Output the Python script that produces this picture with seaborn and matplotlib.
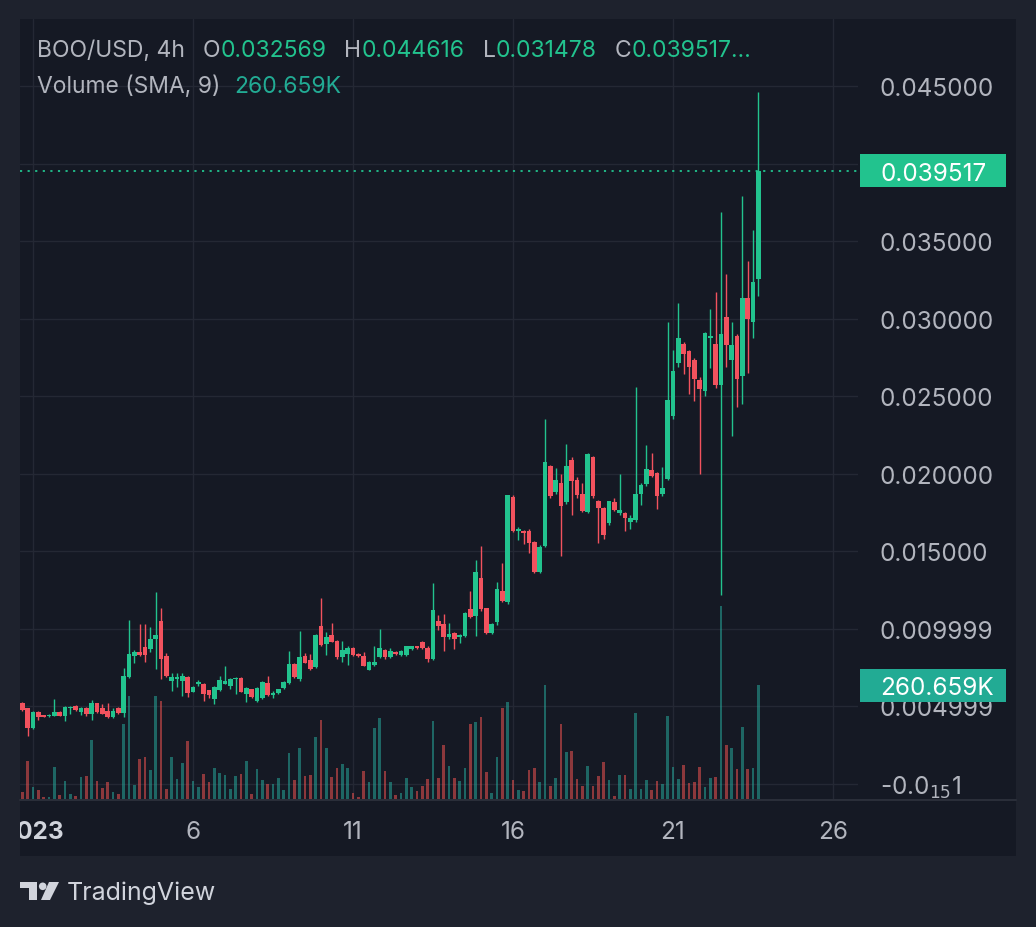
import numpy as np
import pandas as pd
import matplotlib
matplotlib.use("Agg")
import matplotlib.pyplot as plt
import matplotlib.dates as mdates
import matplotlib.transforms as mtransforms
from matplotlib.patches import Rectangle, Polygon, Circle
from matplotlib.lines import Line2D
from matplotlib.offsetbox import TextArea, HPacker, AnchoredOffsetbox
import seaborn as sns

# ---------------- data (prices in thousandths of USD, volume in thousands) ----------------
symbol = "BOO/USD"
interval = "4h"
first_bar = "2022-12-31 16:00"

open_milli = [
    5.22, 4.85, 3.56, 4.63, 4.42, 4.33, 4.37, 4.63, 4.35, 4.85,
    5.00, 4.63, 4.89, 4.46, 5.17, 4.85, 4.68, 4.29, 4.85, 4.57,
    6.87, 8.25, 8.50, 8.79, 8.68, 9.32, 10.50, 8.25, 6.62, 6.72,
    6.62, 6.88, 5.93, 6.40, 6.44, 6.01, 5.43, 6.01, 6.44, 6.29,
    6.72, 6.79, 5.75, 6.08, 5.32, 5.54, 6.51, 5.71, 5.86, 6.14,
    6.51, 7.69, 6.72, 8.23, 7.95, 7.52, 10.15, 8.99, 9.57, 9.20,
    8.13, 8.34, 8.71, 8.34, 8.24, 7.33, 7.63, 8.19, 8.62, 8.19,
    8.49, 8.28, 8.28, 8.67, 8.84, 9.10, 8.77, 8.02, 10.49, 10.28,
    9.42, 9.68, 9.42, 9.53, 11.29, 10.82, 13.29, 11.30, 9.71, 10.40,
    12.43, 11.68, 18.49, 16.28, 16.28, 16.28, 15.58, 13.65, 15.32, 20.46,
    18.80, 19.40, 18.17, 20.90, 19.60, 18.70, 17.54, 21.04, 18.20, 17.75,
    16.80, 18.17, 17.45, 17.44, 16.85, 17.00, 18.68, 19.35, 20.24, 20.03,
    18.68, 19.65, 23.68, 27.15, 28.38, 27.88, 27.35, 26.03, 25.32, 28.76,
    28.38, 25.74, 30.09, 27.30, 28.85, 26.26, 31.32, 29.80, 32.569,
]
high_milli = [
    5.28, 4.90, 4.66, 4.66, 4.45, 4.48, 5.43, 4.66, 5.00, 5.00,
    5.05, 4.94, 4.94, 5.37, 5.22, 5.10, 5.17, 4.89, 4.94, 7.48,
    10.55, 8.60, 10.29, 10.29, 10.12, 12.34, 11.32, 8.40, 7.10, 7.10,
    7.15, 6.92, 6.30, 6.66, 6.50, 6.05, 6.30, 6.94, 7.59, 6.80,
    6.85, 6.85, 6.25, 6.12, 6.25, 6.62, 6.94, 5.95, 6.12, 6.60,
    8.56, 7.80, 9.85, 8.40, 8.34, 9.65, 12.00, 9.80, 10.34, 9.25,
    9.20, 8.84, 8.80, 8.40, 8.50, 7.90, 8.84, 9.96, 8.70, 8.71,
    8.55, 8.60, 8.90, 8.90, 8.90, 9.20, 8.85, 12.92, 10.90, 10.95,
    10.34, 9.75, 9.65, 11.05, 12.43, 14.42, 15.30, 11.35, 10.35, 13.00,
    14.20, 18.64, 18.60, 16.55, 16.35, 16.43, 15.65, 15.40, 23.50, 20.55,
    20.36, 20.00, 21.90, 21.05, 19.75, 19.40, 21.30, 21.10, 18.30, 17.85,
    18.25, 18.45, 19.95, 17.50, 17.30, 25.60, 19.40, 21.85, 21.30, 20.10,
    20.44, 29.80, 28.00, 31.03, 28.50, 28.00, 27.45, 26.20, 29.10, 30.60,
    31.70, 36.85, 32.88, 29.80, 29.00, 37.88, 33.68, 35.68, 44.616,
]
low_milli = [
    4.70, 3.06, 3.50, 4.07, 4.28, 4.28, 4.33, 4.33, 4.03, 4.46,
    4.68, 4.42, 4.35, 4.07, 4.57, 4.46, 4.25, 4.25, 4.50, 4.29,
    6.80, 7.80, 8.20, 7.82, 8.50, 7.39, 6.74, 6.90, 5.97, 6.20,
    5.65, 5.58, 5.90, 6.29, 5.32, 5.54, 5.15, 5.95, 6.40, 6.08,
    5.80, 5.90, 5.28, 5.54, 5.28, 5.45, 5.65, 5.50, 5.80, 6.10,
    6.45, 6.80, 6.60, 7.75, 7.30, 7.45, 8.90, 8.28, 9.10, 8.05,
    7.85, 7.63, 8.20, 8.15, 7.55, 7.30, 7.60, 8.10, 8.05, 8.10,
    8.30, 8.20, 8.20, 8.62, 8.65, 8.65, 7.81, 7.95, 9.90, 8.56,
    9.35, 8.67, 9.05, 9.45, 10.65, 9.50, 11.10, 9.65, 9.65, 10.20,
    11.70, 11.60, 16.20, 15.70, 15.45, 14.90, 13.60, 13.60, 15.25, 18.45,
    18.70, 14.66, 18.05, 17.32, 18.40, 17.50, 17.45, 18.45, 15.50, 15.80,
    16.70, 17.55, 17.30, 16.26, 16.40, 16.90, 17.97, 19.20, 19.80, 17.68,
    18.55, 19.55, 23.50, 26.90, 26.40, 25.10, 24.70, 20.00, 25.00, 26.80,
    25.50, 12.15, 26.90, 22.44, 24.26, 24.50, 26.50, 28.76, 31.478,
]
close_milli = [
    4.72, 3.60, 4.63, 4.29, 4.31, 4.44, 4.63, 4.35, 4.94, 4.94,
    4.72, 4.85, 4.50, 5.22, 4.63, 4.50, 4.29, 4.68, 4.57, 6.94,
    8.35, 8.50, 8.30, 8.31, 9.32, 9.60, 8.03, 6.95, 6.88, 6.88,
    6.94, 5.86, 6.23, 6.57, 5.75, 5.69, 6.23, 6.66, 6.62, 6.72,
    6.81, 5.93, 6.14, 5.58, 6.19, 6.55, 5.71, 5.86, 6.08, 6.55,
    7.69, 6.88, 8.17, 7.80, 7.37, 9.59, 8.95, 9.42, 9.14, 8.13,
    8.62, 8.77, 8.28, 8.24, 7.59, 7.85, 7.81, 8.77, 8.13, 8.56,
    8.34, 8.52, 8.84, 8.84, 8.71, 8.71, 8.02, 11.20, 10.13, 9.42,
    9.63, 9.35, 9.57, 10.99, 10.71, 13.65, 11.25, 9.71, 10.30, 12.58,
    11.79, 18.64, 16.28, 16.43, 16.13, 15.54, 13.65, 15.28, 20.72, 18.53,
    19.60, 17.90, 20.50, 19.50, 18.60, 17.60, 21.25, 18.53, 17.80, 16.03,
    18.20, 17.65, 17.62, 17.15, 17.15, 18.68, 19.26, 20.32, 19.85, 18.56,
    19.06, 24.74, 26.62, 28.76, 27.68, 26.90, 26.12, 25.44, 29.06, 28.85,
    25.68, 28.97, 28.26, 28.32, 26.12, 31.32, 29.94, 32.38, 39.517,
]
volume_k = [
    15, 88, 28, 21, 5, 5, 74, 10, 42, 11,
    7, 51, 53, 135, 42, 25, 38, 15, 11, 171,
    236, 33, 91, 97, 66, 236, 223, 23, 95, 46,
    82, 133, 42, 28, 57, 38, 71, 59, 55, 23,
    53, 57, 88, 11, 69, 43, 34, 34, 48, 21,
    105, 43, 117, 53, 55, 141, 181, 116, 50, 71,
    80, 72, 14, 5, 65, 38, 162, 185, 63, 38,
    9, 14, 48, 27, 19, 30, 46, 178, 48, 123,
    75, 48, 42, 71, 171, 175, 187, 61, 14, 97,
    207, 221, 44, 21, 18, 67, 71, 38, 261, 30,
    48, 171, 107, 110, 46, 30, 75, 30, 52, 85,
    43, 8, 55, 55, 24, 196, 24, 43, 21, 42,
    34, 189, 74, 45, 78, 36, 40, 74, 27, 48,
    50, 441, 123, 116, 69, 165, 68, 71, 260.659,
]

price_ticks = [0.045, 0.035, 0.030, 0.025, 0.020, 0.015, 0.010, 0.005, 0.0]
price_tick_labels = ["0.045000", "0.035000", "0.030000", "0.025000", "0.020000",
                     "0.015000", "0.009999", "0.004999", r"-0.0$_{15}$1"]
grid_levels = [0.000, 0.005, 0.010, 0.015, 0.020, 0.025, 0.030, 0.035, 0.040, 0.045]
date_ticks = ["2023-01-01", "2023-01-06", "2023-01-11", "2023-01-16", "2023-01-21", "2023-01-26"]
date_tick_labels = ["2023", "6", "11", "16", "21", "26"]
volume_sma_label = "260.659K"
header_ohlc = [("O", "0.032569"), ("H", "0.044616"), ("L", "0.031478"), ("C", "0.039517…")]

# ---------------- style ----------------
OUTER = "#1e222d"
PANE = "#151924"
GRID = "#242834"
TEXT = "#b2b5be"
TEXT_BRIGHT = "#d1d4dc"
UP = "#22c38e"
DOWN = "#f2525e"
VOL_UP = "#26a69a"
VOL_DOWN = "#ef5350"
VOL_BOX = "#22ab94"
FS = 17.5
HFS = 16.5

W, H = 1036, 928
sns.set_theme(style="dark")
plt.rcParams["font.family"] = ["Inter", "DejaVu Sans"]
plt.rcParams["mathtext.fontset"] = "dejavusans"

o = np.array(open_milli) / 1000
h = np.array(high_milli) / 1000
l = np.array(low_milli) / 1000
c = np.array(close_milli) / 1000
v = np.array(volume_k) * 1000
times = pd.date_range(first_bar, periods=len(o), freq="4h")
t = mdates.date2num(times.to_pydatetime())
step = 1 / 6
up = c >= o

fig = plt.figure(figsize=(W / 100, H / 100), dpi=100, facecolor=OUTER)
px = mtransforms.Affine2D().scale(1 / W, -1 / H).translate(0, 1) + fig.transFigure


def rect(x0, y0, x1, y1):
    return [x0 / W, 1 - y1 / H, (x1 - x0) / W, (y1 - y0) / H]


fig.add_artist(Rectangle((20, 20), 996, 837, transform=px, facecolor=PANE,
                         edgecolor="none", zorder=-5))

plot_rect = rect(20, 20, 858, 800)
AXW, AXH = 838, 780
ax = fig.add_axes(plot_rect, label="grid")
vax = fig.add_axes(plot_rect, label="volume", sharex=ax)
cax = fig.add_axes(plot_rect, label="price", sharex=ax)
for a, z in ((ax, 1), (vax, 2), (cax, 3)):
    a.set_zorder(z)
    for s in a.spines.values():
        s.set_visible(False)
ax.patch.set_visible(False)
vax.patch.set_visible(False)
cax.patch.set_visible(False)

ymin, ymax = -0.001, 0.049323
jan1 = mdates.date2num(pd.Timestamp("2023-01-01").to_pydatetime())
date_nums = mdates.date2num(pd.to_datetime(date_ticks).to_pydatetime())

# grid
ax.set_ylim(ymin, ymax)
ax.set_xticks(date_nums)
ax.set_yticks(grid_levels)
ax.grid(True, color=GRID, linewidth=1.0)
ax.tick_params(length=0, labelbottom=False, labelleft=False)

# volume with seaborn
vdf = pd.DataFrame({"time": t, "volume": v, "side": np.where(up, "up", "down")})
sns.histplot(data=vdf, x="time", weights="volume", hue="side", hue_order=["up", "down"],
             binwidth=step, binrange=(t[0] - step / 2, t[-1] + step / 2),
             palette={"up": VOL_UP, "down": VOL_DOWN}, alpha=0.55,
             shrink=0.55, element="bars", fill=True, linewidth=0, legend=False, ax=vax)
vol_top = AXH * 260659 / 114
vax.set_ylim(0, vol_top)
vax.set_axis_off()

# candles
colors = np.where(up, UP, DOWN)
cax.vlines(t, l, h, colors=colors, linewidth=1.0, zorder=2)
body_lo = np.minimum(o, c)
body_h = np.maximum(np.abs(c - o), 0.00008)
cax.bar(t, body_h, bottom=body_lo, width=step * 0.84, color=colors, linewidth=0, zorder=3)
cax.set_ylim(ymin, ymax)
cax.yaxis.tick_right()
cax.set_yticks(price_ticks, labels=price_tick_labels)
cax.tick_params(axis="y", length=0, pad=15.5, labelsize=FS, labelcolor=TEXT)
cax.tick_params(axis="x", length=0, labelbottom=False)
cax.grid(False)

cax.axhline(c[-1], color=UP, linestyle=(0, (1.2, 3)), linewidth=1.3, zorder=1)

dy = (ymax - ymin) / AXH
btr = mtransforms.blended_transform_factory(cax.transAxes, cax.transData)
cax.add_patch(Rectangle((1 + 2 / AXW, c[-1] - 16.5 * dy), 146 / AXW, 33 * dy, transform=btr,
                        facecolor=UP, edgecolor="none", clip_on=False, zorder=5))
cax.text(1 + 22 / AXW, c[-1], f"{c[-1]:.6f}", transform=btr, ha="left", va="center_baseline",
         color="white", fontsize=FS, clip_on=False, zorder=6)

ax.set_xlim(jan1 - 13 / 32, jan1 + 825 / 32)

# volume value label (separate overlay so it sits above the price labels)
lax = fig.add_axes(plot_rect, label="volume-label", sharex=ax)
lax.set_zorder(5)
lax.set_axis_off()
lax.set_ylim(0, vol_top)
vdy = vol_top / AXH
vtr = mtransforms.blended_transform_factory(lax.transAxes, lax.transData)
lax.add_patch(Rectangle((1 + 2 / AXW, v[-1] - 16.5 * vdy), 146 / AXW, 33 * vdy, transform=vtr,
                        facecolor=VOL_BOX, edgecolor="none", clip_on=False, zorder=5))
lax.text(1 + 22 / AXW, v[-1], volume_sma_label, transform=vtr, ha="left", va="center_baseline",
         color="white", fontsize=FS, clip_on=False, zorder=6)

# time axis
tax = fig.add_axes(rect(20, 802, 858, 857), label="time", sharex=ax)
tax.set_axis_off()
ttr = mtransforms.blended_transform_factory(tax.transData, tax.transAxes)
for d, lab in zip(date_nums, date_tick_labels):
    bold = lab == "2023"
    tax.text(d, 0.45, lab, transform=ttr, ha="center", va="center",
             color=TEXT_BRIGHT if bold else TEXT, fontsize=FS,
             fontweight="bold" if bold else "normal", clip_on=True)

fig.add_artist(Line2D([20, 1016], [801, 801], transform=px, color="#2a2e39", linewidth=1.5))


# header
def add_line(groups, y, gap):
    packs = []
    for lab, val, col in groups:
        kids = []
        if lab:
            kids.append(TextArea(lab, textprops=dict(color=TEXT, fontsize=HFS)))
        kids.append(TextArea(val, textprops=dict(color=col, fontsize=HFS)))
        packs.append(HPacker(children=kids, align="baseline", pad=0, sep=0))
    line = HPacker(children=packs, align="baseline", pad=0, sep=gap)
    ab = AnchoredOffsetbox(loc="center left", child=line, pad=0, borderpad=0, frameon=False,
                           bbox_to_anchor=(37, y), bbox_transform=px)
    fig.add_artist(ab)


add_line([("", f"{symbol}, {interval}", TEXT)] + [(k, val, UP) for k, val in header_ohlc], 51, 13)
add_line([("", "Volume (SMA, 9)", TEXT), ("", volume_sma_label, VOL_BOX)], 87, 10)

# TradingView watermark
fig.add_artist(Polygon([(20, 883), (37, 883), (37, 901), (29, 901), (29, 889), (20, 889)],
                       closed=True, transform=px, facecolor=TEXT_BRIGHT, edgecolor="none"))
fig.add_artist(Circle((42.7, 887.3), 3.8, transform=px, facecolor=TEXT_BRIGHT, edgecolor="none"))
fig.add_artist(Polygon([(49, 883), (59, 883), (50, 901), (41, 901)], closed=True, transform=px,
                       facecolor=TEXT_BRIGHT, edgecolor="none"))
fig.text(67 / W, 1 - 893 / H, "TradingView", color=TEXT_BRIGHT, fontsize=18, ha="left",
         va="center")

fig.savefig("out.png", dpi=100, facecolor=OUTER)
